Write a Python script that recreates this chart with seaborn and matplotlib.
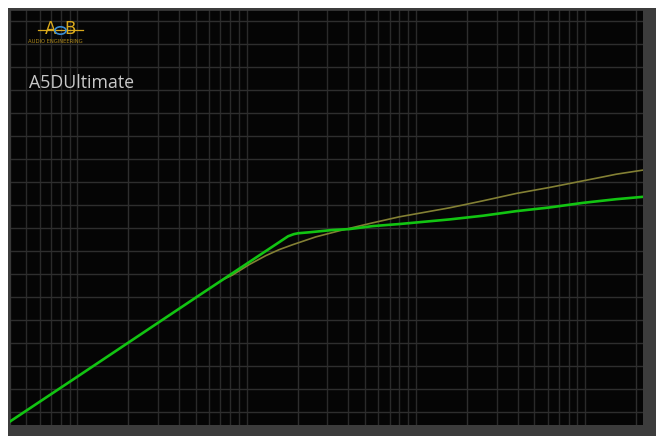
import numpy as np
import matplotlib
matplotlib.use('agg')
import matplotlib.pyplot as plt
from matplotlib.patches import Rectangle, Circle
from matplotlib.lines import Line2D
from matplotlib.ticker import FixedLocator, NullFormatter
import pandas as pd
import seaborn as sns

# curve values (x on log scale, y in dB)
green_x = [2.0, 4.89, 26.2, 41.2, 88.0, 95.0, 101, 117, 161, 202, 278, 400, 790,
           1244, 1960, 3085, 4856, 7656, 10910]
green_y = [-82.0, -72.5, -54.6, -49.8, -41.75, -41.3, -41.1, -40.9, -40.4, -40.2,
           -39.55, -39.1, -38.1, -37.3, -36.3, -35.5, -34.5, -33.7, -33.2]

olive_x = [37.0, 41.2, 51.8, 65.0, 77.9, 93.4, 128.5, 176.5, 202, 278, 400, 790, 1244,
           1960, 3085, 4856, 6500, 7656, 10910]
olive_y = [-51.0, -50.2, -47.91, -45.96, -44.66, -43.6, -41.88, -40.57, -40.05, -38.84,
           -37.53, -35.58, -34.06, -32.46, -31.15, -29.72, -28.8, -28.27, -27.4]

title_text = "A5DUltimate"
logo_sub = "AUDIO ENGINEERING"

df = pd.concat([
    pd.DataFrame({"x": olive_x, "y": olive_y, "curve": "olive"}),
    pd.DataFrame({"x": green_x, "y": green_y, "curve": "green"}),
])

fig = plt.figure(figsize=(6.56, 4.36), dpi=100, facecolor='white')
# dark gray frame behind the plot
frame = Rectangle((8.3 / 656, 0), 1, (436 - 8.3) / 436, transform=fig.transFigure,
                  facecolor='#3c3c3c', edgecolor='none', zorder=-10)
fig.patches.append(frame)
ax = fig.add_axes([10 / 656, 11 / 436, (643 - 10) / 656, (425 - 10) / 436])
ax.set_facecolor('#050505')

sns.lineplot(data=df, x="x", y="y", hue="curve", palette={"olive": "#838034", "green": "#12c412"},
             ax=ax, legend=False, sort=False, estimator=None)
for ln in ax.lines:
    if ln.get_color() == "#12c412":
        ln.set_linewidth(1.9)
        ln.set_zorder(4)
    else:
        ln.set_linewidth(1.2)
        ln.set_zorder(3)

ax.set_xscale('log')
ax.set_xlim(2.0, 11000)
ax.set_ylim(-82.76, 7.4)

major = [10, 100, 1000, 10000]
minor = [m * d for d in [0.1, 1, 10, 100, 1000] for m in [1.5, 2, 2.5, 3, 3.5, 4, 4.5, 5]]
ax.xaxis.set_major_locator(FixedLocator(major))
ax.xaxis.set_minor_locator(FixedLocator(minor))
ax.yaxis.set_major_locator(FixedLocator(np.arange(-80, 10, 5)))
ax.xaxis.set_major_formatter(NullFormatter())
ax.xaxis.set_minor_formatter(NullFormatter())
ax.yaxis.set_major_formatter(NullFormatter())
ax.tick_params(which='both', length=0)
ax.grid(which='major', axis='both', color='#2e2e2e', linewidth=1.0)
ax.grid(which='minor', axis='x', color='#2a2a2a', linewidth=1.0)
ax.set_axisbelow(True)
ax.set_xlabel('')
ax.set_ylabel('')
for side in ['top', 'left']:
    ax.spines[side].set_color('#3c3c3c')
    ax.spines[side].set_linewidth(1.2)
for side in ['bottom', 'right']:
    ax.spines[side].set_visible(False)

# logo
gold = '#d9a91c'
fig.add_artist(Line2D([38 / 656, 83 / 656], [1 - 30.5 / 436, 1 - 30.5 / 436], color=gold,
                      linewidth=0.9, transform=fig.transFigure, zorder=5))
fig.text(45 / 656, 1 - 29 / 436, "A", color=gold, fontsize=12, ha='left', va='center',
         zorder=6)
fig.text(64 / 656, 1 - 29.5 / 436, "B", color=gold, fontsize=12, ha='left', va='center',
         zorder=6)
fig.add_artist(Circle((60.5 / 656, 1 - 30.5 / 436), 0.0085, transform=fig.transFigure,
                      facecolor='none', edgecolor='#3a8cd0', linewidth=1.2, zorder=7))
fig.text(28 / 656, 1 - 41.5 / 436, logo_sub, color='#b08a1a', fontsize=3.8, ha='left',
         va='center', zorder=6)

fig.text(29 / 656, 1 - 83 / 436, title_text, color='#c8c8c8', fontsize=12.8, ha='left',
         va='center', family='Open Sans', zorder=6)

fig.savefig('out.png', dpi=100, facecolor='white')
